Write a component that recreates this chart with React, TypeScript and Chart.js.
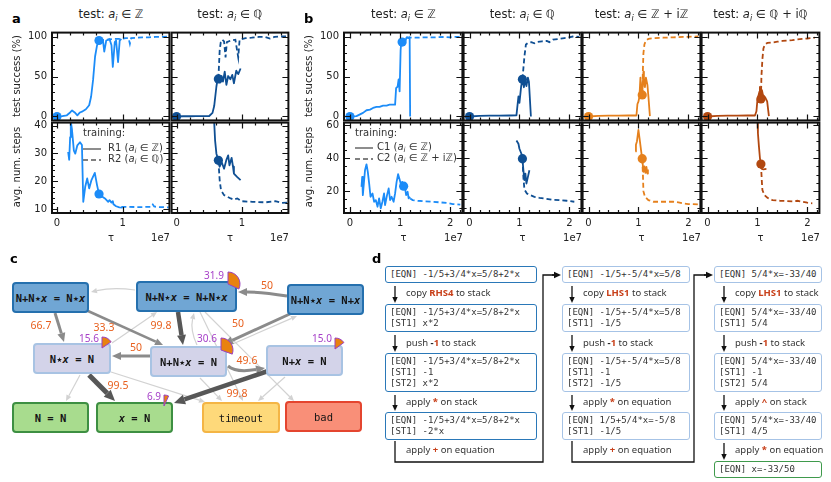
import React, { useEffect, useRef } from 'react';
import { Chart, registerables } from 'chart.js';

Chart.register(...registerables);

// ---------------- DATA (τ in units of 1e7) ----------------
// panel a, test a_i ∈ Z
const A_Z_TOP_SOLID_X = [0, 0.08, 0.15, 0.2, 0.23, 0.27, 0.31, 0.35, 0.38, 0.44, 0.49, 0.52, 0.55, 0.58, 0.61, 0.64, 0.68, 0.7, 0.72, 0.75, 0.78, 0.8, 0.83, 0.85, 0.88, 0.9, 0.93, 0.955, 0.98];
const A_Z_TOP_SOLID_Y = [0, 0.5, 1.5, 5, 7.5, 5, 1.5, 5, 6, 9, 14, 25, 46, 75, 89, 95, 93, 95, 81, 95, 96, 97, 89, 62, 93, 95, 68, 95, 97];
const A_Z_TOP_DASH_X = [0.64, 0.75, 0.85, 0.95, 1.05, 1.09, 1.11, 1.13, 1.2, 1.3, 1.4, 1.5, 1.6, 1.7];
const A_Z_TOP_DASH_Y = [95, 96, 97, 97, 98, 98, 91, 98, 98.5, 99, 99, 99.5, 99.5, 100];
const A_Z_TOP_DOT_X = [0, 0.64];
const A_Z_TOP_DOT_Y = [0, 95];
const A_Z_BOT_SOLID_X = [0.17, 0.186, 0.2, 0.21, 0.227, 0.257, 0.278, 0.31, 0.35, 0.38, 0.4, 0.43, 0.46, 0.49, 0.525, 0.576, 0.61, 0.64, 0.68, 0.73, 0.78, 0.8, 0.83, 0.85, 0.86, 0.9, 0.95, 1.0];
const A_Z_BOT_SOLID_Y = [30.5, 27.7, 35.8, 41.5, 38.8, 31, 29.9, 32.9, 34, 33, 12.6, 18, 21, 17.4, 20.4, 23, 18.6, 15.4, 14.6, 13.8, 12.6, 13.2, 12.3, 12.8, 11.7, 11, 10.6, 10.5];
const A_Z_BOT_DASH_X = [0.98, 1.1, 1.2, 1.3, 1.4, 1.44, 1.46, 1.48, 1.55, 1.7];
const A_Z_BOT_DASH_Y = [10.8, 10.8, 10.7, 10.7, 10.8, 10.8, 11.6, 10.9, 10.7, 10.6];
const A_Z_BOT_DOT_X = [0.64];
const A_Z_BOT_DOT_Y = [15.4];

// panel a, test a_i ∈ Q
const A_Q_TOP_SOLID_X = [0, 0.1, 0.2, 0.3, 0.4, 0.5, 0.55, 0.576, 0.61, 0.626, 0.64, 0.666, 0.69, 0.71, 0.737, 0.763, 0.79, 0.823, 0.853, 0.878, 0.914, 0.944, 0.98];
const A_Q_TOP_SOLID_Y = [0, 0.3, 0.3, 0.5, 0.5, 0.6, 4.5, 13, 37.5, 45.7, 47, 42.4, 50.6, 43.6, 56, 39.5, 50.6, 46.5, 52, 41.6, 57.2, 53, 60];
const A_Q_TOP_DASH_X = [0.64, 0.66, 0.677, 0.7, 0.727, 0.75, 0.77, 0.83, 0.9, 0.944, 0.965, 1.056, 1.15, 1.26, 1.35, 1.43, 1.5, 1.56, 1.7];
const A_Q_TOP_DASH_Y = [47, 82.7, 93, 96, 94, 74, 93, 95, 96, 74, 96, 98, 98.5, 99.5, 99.5, 97.5, 99.5, 100, 100];
const A_Q_TOP_DOT_X = [0, 0.64];
const A_Q_TOP_DOT_Y = [0, 47];
const A_Q_BOT_SOLID_X = [0.57, 0.59, 0.61, 0.64, 0.66, 0.69, 0.727, 0.763, 0.79, 0.81, 0.843, 0.864, 0.878, 0.93, 0.98];
const A_Q_BOT_SOLID_Y = [44, 34.6, 29.9, 27.5, 25.2, 26.9, 24.5, 27.7, 29.3, 25.7, 28.4, 25.2, 22.75, 21.5, 20.4];
const A_Q_BOT_DASH_X = [0.64, 0.66, 0.68, 0.727, 0.778, 0.83, 0.878, 0.93, 1.0, 1.16, 1.36, 1.51, 1.61, 1.7];
const A_Q_BOT_DASH_Y = [27.5, 20.4, 16.8, 15, 14.4, 13.8, 13.4, 13.8, 12.8, 12.6, 12.4, 12.8, 12.2, 12.3];
const A_Q_BOT_DOT_X = [0.64];
const A_Q_BOT_DOT_Y = [27.5];

// panel b, test a_i ∈ Z
const B_Z_TOP_SOLID_X = [0, 0.13, 0.26, 0.33, 0.4, 0.46, 0.53, 0.59, 0.66, 0.73, 0.79, 0.86, 0.9, 0.92, 0.95, 0.97, 0.99, 1.01, 1.02, 1.04, 1.07, 1.1, 1.13, 1.17, 1.19, 1.2];
const B_Z_TOP_SOLID_Y = [0, 0.4, 4.5, 7.8, 8.6, 10.7, 12, 12, 13.6, 13.6, 14.8, 14.8, 14.8, 35.4, 37.4, 46.5, 31.3, 82.7, 91, 93, 97, 94, 99, 98, 99, 0];
const B_Z_TOP_DASH_X = [1.13, 1.3, 1.5, 1.7, 1.9, 2.0, 2.1, 2.24];
const B_Z_TOP_DASH_Y = [99, 98.5, 99, 99, 99.5, 99, 99.5, 99.5];
const B_Z_TOP_DOT_X = [0, 1.04];
const B_Z_TOP_DOT_Y = [0, 93];
const B_Z_BOT_SOLID_X = [0.23, 0.244, 0.257, 0.277, 0.3, 0.33, 0.356, 0.383, 0.41, 0.449, 0.482, 0.515, 0.55, 0.581, 0.614, 0.647, 0.68, 0.7, 0.739, 0.772, 0.8, 0.83, 0.87, 0.9, 0.93, 0.96, 0.99, 1.016, 1.04, 1.07, 1.1, 1.12, 1.15, 1.17, 1.2];
const B_Z_BOT_SOLID_Y = [22.6, 28.6, 17.6, 24.6, 32.6, 36.2, 31.6, 24.6, 16.6, 18.6, 13.6, 14.6, 10.6, 15.6, 9.6, 13.6, 18.6, 11.6, 17.6, 21.6, 14.6, 16.6, 13.6, 18.6, 25.6, 30.2, 27, 24.2, 25.6, 23, 21.6, 17.6, 19.6, 15.6, 16.6];
const B_Z_BOT_DASH_X = [1.2, 1.25, 1.35, 1.5, 1.65, 1.8, 1.95, 2.05, 2.2];
const B_Z_BOT_DASH_Y = [15.6, 14.6, 14.2, 13.8, 13.6, 13.2, 12.8, 12.2, 11.8];
const B_Z_BOT_DOT_X = [1.07];
const B_Z_BOT_DOT_Y = [23];

// panel b, test a_i ∈ Q
const B_Q_TOP_SOLID_X = [0, 0.2, 0.4, 0.6, 0.8, 0.94, 0.98, 1.0, 1.02, 1.035, 1.06, 1.09, 1.11, 1.14, 1.17, 1.19, 1.23];
const B_Q_TOP_SOLID_Y = [0, 0.8, 1, 1, 1.2, 1.5, 25, 17, 29, 38, 46.5, 36.6, 45.7, 38, 48.5, 43.6, 0];
const B_Q_TOP_DASH_X = [1.06, 1.1, 1.13, 1.17, 1.24, 1.3, 1.35, 1.45, 1.55, 1.6, 1.67, 1.8, 1.9, 2.0, 2.07, 2.2];
const B_Q_TOP_DASH_Y = [46.5, 75, 90, 92, 93, 91.5, 93, 94, 94.5, 93, 96, 97, 98, 99, 100, 99.5];
const B_Q_TOP_DOT_X = [0, 1.06];
const B_Q_TOP_DOT_Y = [0, 46.5];
const B_Q_BOT_SOLID_X = [0.94, 0.98, 1.0, 1.04, 1.06, 1.08, 1.1, 1.12, 1.14, 1.17, 1.2];
const B_Q_BOT_SOLID_Y = [50.6, 48.6, 45.6, 42.6, 39.6, 32.6, 26.6, 30.6, 24.6, 28.6, 32.6];
const B_Q_BOT_DASH_X = [1.06, 1.08, 1.1, 1.15, 1.22, 1.3, 1.4, 1.5, 1.65, 1.8, 1.95, 2.1];
const B_Q_BOT_DASH_Y = [39.6, 28, 21, 18.6, 17.6, 16.6, 16, 15.6, 14.8, 14.6, 14.2, 13.6];
const B_Q_BOT_DOT_X = [1.06];
const B_Q_BOT_DOT_Y = [39.6];

// panel b, test a_i ∈ Z + iZ
const B_ZIZ_TOP_SOLID_X = [0, 0.2, 0.4, 0.6, 0.8, 0.96, 0.98, 1.0, 1.02, 1.04, 1.06, 1.076, 1.1, 1.11, 1.13, 1.15, 1.18, 1.2, 1.23];
const B_ZIZ_TOP_SOLID_Y = [0, 0.8, 1, 1, 1.2, 1.2, 15.6, 18.5, 24.7, 48.6, 33, 27, 56, 45.7, 36.6, 48.6, 39.5, 25, 0.4];
const B_ZIZ_TOP_DASH_X = [1.076, 1.09, 1.1, 1.12, 1.15, 1.2, 1.3, 1.5, 1.7, 1.9, 2.2];
const B_ZIZ_TOP_DASH_Y = [27, 60, 79, 90, 95, 97, 98, 98.5, 99, 99.5, 100];
const B_ZIZ_TOP_DOT_X = [0, 1.076];
const B_ZIZ_TOP_DOT_Y = [0, 27];
const B_ZIZ_BOT_SOLID_X = [0.94, 0.95, 0.97, 1.0, 1.03, 1.06, 1.076, 1.1, 1.12, 1.14, 1.16, 1.18, 1.19];
const B_ZIZ_BOT_SOLID_Y = [44, 48, 50, 57, 50, 43, 39.6, 31.6, 35, 31, 34.6, 30.6, 33];
const B_ZIZ_BOT_DASH_X = [1.076, 1.09, 1.1, 1.13, 1.2, 1.3, 1.5, 1.7, 1.8, 1.9, 2.0, 2.2];
const B_ZIZ_BOT_DASH_Y = [39.6, 30, 20, 16.6, 14.6, 13.6, 13.6, 13.6, 13.2, 12.6, 12.2, 12];
const B_ZIZ_BOT_DOT_X = [1.076];
const B_ZIZ_BOT_DOT_Y = [39.6];

// panel b, test a_i ∈ Q + iQ
const B_QIQ_TOP_SOLID_X = [0, 0.2, 0.4, 0.6, 0.8, 0.95, 0.98, 1.0, 1.04, 1.05, 1.07, 1.09, 1.11, 1.155, 1.195, 1.23];
const B_QIQ_TOP_SOLID_Y = [0, 0.8, 1, 1, 1.2, 1.2, 6.5, 20.8, 31, 37, 22, 33, 27, 24, 18.9, 0.4];
const B_QIQ_TOP_DASH_X = [1.07, 1.08, 1.1, 1.12, 1.15, 1.2, 1.3, 1.4, 1.5, 1.6, 1.7, 1.8, 1.9, 2.0, 2.15];
const B_QIQ_TOP_DASH_Y = [22, 50, 72, 85, 90, 92, 92.5, 93.5, 94.5, 95, 95.5, 96.5, 97, 97.5, 98.5];
const B_QIQ_TOP_DOT_X = [0, 1.07];
const B_QIQ_TOP_DOT_Y = [0, 22];
const B_QIQ_BOT_SOLID_X = [1.0, 1.01, 1.03, 1.05, 1.07, 1.09, 1.12, 1.18];
const B_QIQ_BOT_SOLID_Y = [64, 55, 47, 40, 36.4, 33.4, 33.2, 33.4];
const B_QIQ_BOT_DASH_X = [1.07, 1.09, 1.1, 1.14, 1.2, 1.3, 1.45, 1.6, 1.7, 1.8, 1.9, 2.0, 2.1];
const B_QIQ_BOT_DASH_Y = [36.4, 25, 20.6, 17.6, 16, 14.6, 14.2, 14, 13.8, 14.2, 13.6, 13, 12.6];
const B_QIQ_BOT_DOT_X = [1.07];
const B_QIQ_BOT_DOT_Y = [36.4];

// ticks
const X_MAJOR_A = [0, 1];
const X_MINOR_A = [0.2, 0.4, 0.6, 0.8, 1.2, 1.4, 1.6];
const X_MAJOR_B = [0, 1, 2];
const X_MINOR_B = [0.2, 0.4, 0.6, 0.8, 1.2, 1.4, 1.6, 1.8, 2.2];
const Y_MAJOR_TOP = [0, 50, 100];
const Y_MINOR_TOP = [10, 20, 30, 40, 60, 70, 80, 90];
const Y_MAJOR_BOT_A = [10, 20, 30, 40];
const Y_MINOR_BOT_A = [12, 14, 16, 18, 22, 24, 26, 28, 32, 34, 36, 38];
const Y_MAJOR_BOT_B = [20, 40, 60];
const Y_MINOR_BOT_B = [10, 15, 25, 30, 35, 45, 50, 55];

const COLUMN_TITLES_A = ['ℤ', 'ℚ'];
const COLUMN_TITLES_B = ['ℤ', 'ℚ', 'ℤ + iℤ', 'ℚ + iℚ'];

// ---------------- STYLE ----------------
const FONT = "'DejaVu Sans', sans-serif";
const SANS = "'Noto Sans', 'Open Sans', sans-serif";
const MONO = "'DejaVu Sans Mono', monospace";
const C_LBLUE = '#1c8cf8';
const C_DBLUE = '#0f4f93';
const C_ORANGE = '#e5801c';
const C_BROWN = '#b24810';

type S = [number[], number[]];
interface Cell {
  key: string; left: number; top: number; w: number; h: number;
  xr: [number, number]; yr: [number, number];
  xMajor: number[]; xMinor: number[]; yMajor: number[]; yMinor: number[];
  showX: boolean; showY: boolean; color: string;
  solid: S; dash: S; dots: S;
}

const TOP_ROW = { top: 32, h: 89 };
const BOT_ROW = { top: 122, h: 91 };
const A_LEFTS = [52, 171];
const A_W = 118;
const B_LEFTS = [344, 463, 582, 701];
const B_W = 119;
const XR_A: [number, number] = [-0.076, 1.712];
const XR_B: [number, number] = [-0.119, 2.242];
const YR_TOP: [number, number] = [-4.9, 104.9];
const YR_BOT_A: [number, number] = [8.57, 41.07];
const YR_BOT_B: [number, number] = [6.8, 61.4];

function mk(key: string, col: number, panel: 'a' | 'b', row: 'top' | 'bot', color: string, solid: S, dash: S, dots: S): Cell {
  const isA = panel === 'a';
  const r = row === 'top' ? TOP_ROW : BOT_ROW;
  return {
    key, left: isA ? A_LEFTS[col] : B_LEFTS[col], top: r.top, w: isA ? A_W : B_W, h: r.h,
    xr: isA ? XR_A : XR_B,
    yr: row === 'top' ? YR_TOP : isA ? YR_BOT_A : YR_BOT_B,
    xMajor: isA ? X_MAJOR_A : X_MAJOR_B, xMinor: isA ? X_MINOR_A : X_MINOR_B,
    yMajor: row === 'top' ? Y_MAJOR_TOP : isA ? Y_MAJOR_BOT_A : Y_MAJOR_BOT_B,
    yMinor: row === 'top' ? Y_MINOR_TOP : isA ? Y_MINOR_BOT_A : Y_MINOR_BOT_B,
    showX: row === 'bot', showY: col === 0, color, solid, dash, dots,
  };
}

const CELLS: Cell[] = [
  mk('azt', 0, 'a', 'top', C_LBLUE, [A_Z_TOP_SOLID_X, A_Z_TOP_SOLID_Y], [A_Z_TOP_DASH_X, A_Z_TOP_DASH_Y], [A_Z_TOP_DOT_X, A_Z_TOP_DOT_Y]),
  mk('azb', 0, 'a', 'bot', C_LBLUE, [A_Z_BOT_SOLID_X, A_Z_BOT_SOLID_Y], [A_Z_BOT_DASH_X, A_Z_BOT_DASH_Y], [A_Z_BOT_DOT_X, A_Z_BOT_DOT_Y]),
  mk('aqt', 1, 'a', 'top', C_DBLUE, [A_Q_TOP_SOLID_X, A_Q_TOP_SOLID_Y], [A_Q_TOP_DASH_X, A_Q_TOP_DASH_Y], [A_Q_TOP_DOT_X, A_Q_TOP_DOT_Y]),
  mk('aqb', 1, 'a', 'bot', C_DBLUE, [A_Q_BOT_SOLID_X, A_Q_BOT_SOLID_Y], [A_Q_BOT_DASH_X, A_Q_BOT_DASH_Y], [A_Q_BOT_DOT_X, A_Q_BOT_DOT_Y]),
  mk('bzt', 0, 'b', 'top', C_LBLUE, [B_Z_TOP_SOLID_X, B_Z_TOP_SOLID_Y], [B_Z_TOP_DASH_X, B_Z_TOP_DASH_Y], [B_Z_TOP_DOT_X, B_Z_TOP_DOT_Y]),
  mk('bzb', 0, 'b', 'bot', C_LBLUE, [B_Z_BOT_SOLID_X, B_Z_BOT_SOLID_Y], [B_Z_BOT_DASH_X, B_Z_BOT_DASH_Y], [B_Z_BOT_DOT_X, B_Z_BOT_DOT_Y]),
  mk('bqt', 1, 'b', 'top', C_DBLUE, [B_Q_TOP_SOLID_X, B_Q_TOP_SOLID_Y], [B_Q_TOP_DASH_X, B_Q_TOP_DASH_Y], [B_Q_TOP_DOT_X, B_Q_TOP_DOT_Y]),
  mk('bqb', 1, 'b', 'bot', C_DBLUE, [B_Q_BOT_SOLID_X, B_Q_BOT_SOLID_Y], [B_Q_BOT_DASH_X, B_Q_BOT_DASH_Y], [B_Q_BOT_DOT_X, B_Q_BOT_DOT_Y]),
  mk('bzizt', 2, 'b', 'top', C_ORANGE, [B_ZIZ_TOP_SOLID_X, B_ZIZ_TOP_SOLID_Y], [B_ZIZ_TOP_DASH_X, B_ZIZ_TOP_DASH_Y], [B_ZIZ_TOP_DOT_X, B_ZIZ_TOP_DOT_Y]),
  mk('bzizb', 2, 'b', 'bot', C_ORANGE, [B_ZIZ_BOT_SOLID_X, B_ZIZ_BOT_SOLID_Y], [B_ZIZ_BOT_DASH_X, B_ZIZ_BOT_DASH_Y], [B_ZIZ_BOT_DOT_X, B_ZIZ_BOT_DOT_Y]),
  mk('bqiqt', 3, 'b', 'top', C_BROWN, [B_QIQ_TOP_SOLID_X, B_QIQ_TOP_SOLID_Y], [B_QIQ_TOP_DASH_X, B_QIQ_TOP_DASH_Y], [B_QIQ_TOP_DOT_X, B_QIQ_TOP_DOT_Y]),
  mk('bqiqb', 3, 'b', 'bot', C_BROWN, [B_QIQ_BOT_SOLID_X, B_QIQ_BOT_SOLID_Y], [B_QIQ_BOT_DASH_X, B_QIQ_BOT_DASH_Y], [B_QIQ_BOT_DOT_X, B_QIQ_BOT_DOT_Y]),
];

function PlotCell({ c }: { c: Cell }) {
  const ref = useRef<HTMLCanvasElement | null>(null);
  const padL = c.showY ? 44 : 4;
  const padB = c.showX ? 18 : 4;
  const padT = 4, padR = 4;
  const W = c.w + padL + padR, H = c.h + padT + padB;
  useEffect(() => {
    if (!ref.current) return;
    const pts = (s: S) => s[0].map((x, i) => ({ x, y: s[1][i] }));
    const frame = {
      id: 'mplFrame',
      afterDraw(chart: any) {
        const { ctx, chartArea: a } = chart;
        const xs = chart.scales.x, ys = chart.scales.y;
        ctx.save();
        ctx.strokeStyle = '#111';
        ctx.lineWidth = 1.2;
        ctx.beginPath();
        const xt = (vals: number[], len: number) => vals.forEach((v) => {
          const p = Math.round(xs.getPixelForValue(v)) + 0.5;
          ctx.moveTo(p, a.bottom); ctx.lineTo(p, a.bottom - len);
          ctx.moveTo(p, a.top); ctx.lineTo(p, a.top + len);
        });
        const yt = (vals: number[], len: number) => vals.forEach((v) => {
          const p = Math.round(ys.getPixelForValue(v)) + 0.5;
          if (p < a.top || p > a.bottom) return;
          ctx.moveTo(a.left, p); ctx.lineTo(a.left + len, p);
          ctx.moveTo(a.right, p); ctx.lineTo(a.right - len, p);
        });
        xt(c.xMajor, 6); xt(c.xMinor, 3); yt(c.yMajor, 6); yt(c.yMinor, 3);
        ctx.stroke();
        ctx.lineWidth = 2;
        ctx.strokeStyle = '#111';
        ctx.strokeRect(a.left, a.top, a.right - a.left, a.bottom - a.top);
        ctx.restore();
      },
    };
    const zeroPad = (s: any) => { s.paddingLeft = 0; s.paddingRight = 0; s.paddingTop = 0; s.paddingBottom = 0; };
    const chart = new Chart(ref.current, {
      type: 'line',
      data: {
        datasets: [
          { data: pts(c.dots), showLine: false, pointRadius: 4.6, pointBackgroundColor: c.color, pointBorderColor: c.color, pointBorderWidth: 0, borderWidth: 0, clip: false } as any,
          { data: pts(c.solid), borderColor: c.color, borderWidth: 1.8, pointRadius: 0, tension: 0, fill: false, borderJoinStyle: 'round' },
          { data: pts(c.dash), borderColor: c.color, borderWidth: 1.8, borderDash: [5, 3], pointRadius: 0, tension: 0, fill: false },
        ],
      },
      options: {
        responsive: false,
        animation: false,
        devicePixelRatio: 1,
        events: [],
        layout: { padding: { left: 0, top: padT, right: padR, bottom: 0 } },
        plugins: { legend: { display: false }, tooltip: { enabled: false } },
        scales: {
          x: {
            type: 'linear', min: c.xr[0], max: c.xr[1], bounds: 'data',
            grid: { display: false, drawTicks: false },
            border: { display: false },
            ticks: { display: c.showX, padding: 4, color: '#222', font: { family: FONT, size: 10 }, maxRotation: 0, autoSkip: false, callback: (v: any) => String(v) },
            afterBuildTicks: (s: any) => { s.ticks = c.xMajor.map((v) => ({ value: v })); },
            afterFit: (s: any) => { s.height = padB; zeroPad(s); },
          },
          y: {
            type: 'linear', min: c.yr[0], max: c.yr[1], bounds: 'data',
            grid: { display: false, drawTicks: false },
            border: { display: false },
            ticks: { display: c.showY, padding: 5, color: '#222', font: { family: FONT, size: 10 }, autoSkip: false, callback: (v: any) => String(v) },
            afterBuildTicks: (s: any) => { s.ticks = c.yMajor.map((v) => ({ value: v })); },
            afterFit: (s: any) => { s.width = padL; zeroPad(s); },
          },
        },
      } as any,
      plugins: [frame],
    });
    return () => chart.destroy();
  }, []);
  return (
    <canvas ref={ref} width={W} height={H}
      style={{ position: 'absolute', left: c.left - padL, top: c.top - padT, width: W, height: H }} />
  );
}

// ---------------- text helpers ----------------
function T(props: { x: number; y: number; children: any; size?: number; anchor?: 'start' | 'middle' | 'end'; weight?: any; color?: string; family?: string; rotate?: boolean; style?: any }) {
  const { x, y, children, size = 10, anchor = 'middle', weight = 'normal', color = '#222', family = FONT, rotate = false, style = {} } = props;
  const tx = anchor === 'middle' ? '-50%' : anchor === 'end' ? '-100%' : '0';
  return (
    <div style={{
      position: 'absolute', left: x, top: y, transform: `translate(${tx}, -50%)${rotate ? ' rotate(-90deg)' : ''}`,
      fontSize: size, fontWeight: weight, color, fontFamily: family, whiteSpace: 'pre', lineHeight: 1, ...style,
    }}>{children}</div>
  );
}

function Ai() {
  return <span><i>a</i><span style={{ fontSize: '0.7em', fontStyle: 'italic', verticalAlign: '-0.3em' }}>i</span></span>;
}

// ---------------- panel c ----------------
const NODE_STYLE: Record<string, { bg: string; border: string }> = {
  top: { bg: '#70a6d4', border: '#2570ae' },
  mid: { bg: '#d3d3e9', border: '#a8c3e3' },
  good: { bg: '#a8dc8e', border: '#3d8f42' },
  timeout: { bg: '#fed97a', border: '#f4b545' },
  bad: { bg: '#f98f78', border: '#e4452f' },
};
const NODES = [
  { label: 'N+N*x = N*x', x: 12, y: 282, w: 77, kind: 'top', bold: true },
  { label: 'N+N*x = N+N*x', x: 136, y: 281, w: 101, kind: 'top', bold: true },
  { label: 'N+N*x = N+x', x: 287, y: 284, w: 77, kind: 'top', bold: true },
  { label: 'N*x = N', x: 33, y: 343, w: 78, kind: 'mid', bold: true },
  { label: 'N+N*x = N', x: 150, y: 346, w: 77, kind: 'mid', bold: true },
  { label: 'N+x = N', x: 266, y: 345, w: 77, kind: 'mid', bold: true },
  { label: 'N = N', x: 12, y: 402, w: 77, kind: 'good', bold: true },
  { label: 'x = N', x: 96, y: 402, w: 77, kind: 'good', bold: true },
  { label: 'timeout', x: 202, y: 402, w: 78, kind: 'timeout', bold: false },
  { label: 'bad', x: 285, y: 401, w: 77, kind: 'bad', bold: false },
];
const GRAY = '#8b8b8b', DARK = '#575757', LIGHT = '#d2d2d2';
const EDGES = [
  { x1: 135, y1: 290, x2: 91, y2: 292, w: 1.2, color: LIGHT, head: 6, cx: 113, cy: 287 },
  { x1: 80, y1: 375, x2: 66, y2: 401, w: 1.2, color: LIGHT, head: 6 },
  { x1: 111, y1: 372, x2: 205, y2: 402, w: 1.2, color: LIGHT, head: 6 },
  { x1: 200, y1: 378, x2: 222, y2: 401, w: 1.2, color: LIGHT, head: 6 },
  { x1: 205, y1: 312, x2: 294, y2: 401, w: 1.2, color: LIGHT, head: 6 },
  { x1: 285, y1: 377, x2: 258, y2: 401, w: 1.2, color: LIGHT, head: 6 },
  { x1: 228, y1: 346, x2: 297, y2: 316, w: 1.2, color: LIGHT, head: 6 },
  { x1: 200, y1: 312, x2: 243, y2: 401, w: 1.2, color: LIGHT, head: 6 },
  { x1: 112, y1: 343, x2: 157, y2: 312, w: 1.2, color: LIGHT, head: 6 },
  { x1: 197, y1: 345, x2: 194, y2: 313, w: 1.2, color: LIGHT, head: 6, cx: 190, cy: 330 },
  { x1: 55, y1: 313, x2: 64, y2: 342, w: 3, color: GRAY, head: 9 },
  { x1: 88, y1: 311, x2: 163, y2: 345, w: 2.5, color: GRAY, head: 8 },
  { x1: 178, y1: 312, x2: 183, y2: 345, w: 4.5, color: DARK, head: 10 },
  { x1: 287, y1: 296, x2: 238, y2: 292, w: 3, color: GRAY, head: 9, cx: 262, cy: 292 },
  { x1: 292, y1: 313, x2: 224, y2: 344, w: 3, color: GRAY, head: 9 },
  { x1: 150, y1: 356, x2: 112, y2: 356, w: 3, color: GRAY, head: 9 },
  { x1: 228, y1: 366, x2: 265, y2: 368, w: 3, color: GRAY, head: 9, cx: 236, cy: 373 },
  { x1: 89, y1: 375, x2: 115, y2: 401, w: 5, color: DARK, head: 11 },
  { x1: 268, y1: 371, x2: 174, y2: 403, w: 4.5, color: DARK, head: 11 },
];
const EDGE_LABELS = [
  { t: '66.7', x: 41, y: 325 }, { t: '33.3', x: 104, y: 327 }, { t: '99.8', x: 161, y: 325 },
  { t: '50', x: 267, y: 285 }, { t: '50', x: 238, y: 323 }, { t: '50', x: 136, y: 347 },
  { t: '49.6', x: 247, y: 360 }, { t: '99.5', x: 118, y: 385 }, { t: '99.8', x: 237, y: 393 },
];
const PIES = [
  { pct: 31.9, cx: 228, cy: 284, r: 12, tx: 214, ty: 275 },
  { pct: 15.6, cx: 102, cy: 348, r: 11, tx: 89, ty: 338 },
  { pct: 30.6, cx: 221, cy: 350, r: 12, tx: 207, ty: 338 },
  { pct: 15.0, cx: 335, cy: 349, r: 11, tx: 322, ty: 338 },
  { pct: 6.9, cx: 164, cy: 406, r: 11, tx: 154, ty: 396 },
];

function Arrow(e: any) {
  const sx = e.cx !== undefined ? e.cx : e.x1, sy = e.cy !== undefined ? e.cy : e.y1;
  const dx = e.x2 - sx, dy = e.y2 - sy;
  const len = Math.hypot(dx, dy) || 1;
  const ux = dx / len, uy = dy / len;
  const hl = e.head, hw = e.head * 0.45;
  const bx = e.x2 - ux * hl, by = e.y2 - uy * hl;
  const d = e.cx !== undefined ? `M${e.x1},${e.y1} Q${e.cx},${e.cy} ${bx},${by}` : `M${e.x1},${e.y1} L${bx},${by}`;
  const poly = `${e.x2},${e.y2} ${bx - uy * hw},${by + ux * hw} ${bx + uy * hw},${by - ux * hw}`;
  return (
    <g>
      <path d={d} stroke={e.color} strokeWidth={e.w} fill="none" />
      <polygon points={poly} fill={e.color} />
    </g>
  );
}

// '*' is drawn as a small star, 'x' in italics
function NodeLabel({ s }: { s: string }) {
  const out: any[] = [];
  Array.from(s).forEach((ch, i) => {
    if (ch === 'x') out.push(<i key={i}>x</i>);
    else if (ch === '*') out.push(
      <span key={i} style={{ display: 'inline-block', width: '0.602em', textAlign: 'center', overflow: 'visible' }}>
        <span style={{ fontFamily: FONT, fontSize: '0.62em', fontWeight: 'normal', position: 'relative', top: '-0.1em' }}>★</span>
      </span>);
    else out.push(<span key={i}>{ch}</span>);
  });
  return <>{out}</>;
}

function PanelC() {
  return (
    <>
      <svg width={831} height={482} style={{ position: 'absolute', left: 0, top: 0 }}>
        {EDGES.map((e, i) => <Arrow key={i} {...e} />)}
      </svg>
      {NODES.map((n, i) => {
        const st = NODE_STYLE[n.kind];
        return (
          <div key={i} style={{
            position: 'absolute', left: n.x, top: n.y, width: n.w, height: 31, boxSizing: 'border-box',
            background: st.bg, border: `2px solid ${st.border}`, borderRadius: 4,
            display: 'flex', alignItems: 'center', justifyContent: 'center',
            fontFamily: MONO, fontWeight: n.bold ? 'bold' : 'normal', fontSize: 10.5, color: '#151515', whiteSpace: 'pre',
          }}><NodeLabel s={n.label} /></div>
        );
      })}
      <svg width={831} height={482} style={{ position: 'absolute', left: 0, top: 0 }}>
        {PIES.map((p, i) => {
          const th = (p.pct / 100) * Math.PI * 2;
          const ex = p.cx + p.r * Math.sin(th), ey = p.cy - p.r * Math.cos(th);
          const large = th > Math.PI ? 1 : 0;
          return <path key={i} d={`M${p.cx},${p.cy} L${p.cx},${p.cy - p.r} A${p.r},${p.r} 0 ${large} 1 ${ex},${ey} Z`} fill="#e8820f" stroke="#9b3fc0" strokeWidth={1} />;
        })}
      </svg>
      {PIES.map((p, i) => <T key={'pt' + i} x={p.tx} y={p.ty} size={10} family={SANS} color="#a640c8">{p.pct.toFixed(1)}</T>)}
      {EDGE_LABELS.map((l, i) => <T key={'el' + i} x={l.x} y={l.y} size={10.5} family={SANS} color="#e8601e">{l.t}</T>)}
    </>
  );
}

// ---------------- panel d ----------------
const D_COLS = [
  {
    left: 385, w: 152, border: ['#2a78b8', '#2a78b8', '#2a78b8', '#2a78b8'],
    boxes: [
      ['[EQN] -1/5+3/4*x=5/8+2*x'],
      ['[EQN] -1/5+3/4*x=5/8+2*x', '[ST1] x*2'],
      ['[EQN] -1/5+3/4*x=5/8+2*x', '[ST1] -1', '[ST2] x*2'],
      ['[EQN] -1/5+3/4*x=5/8+2*x', '[ST1] -2*x'],
    ],
    labels: [['copy ', 'RHS4', ' to stack'], ['push ', '-1', ' to stack'], ['apply ', '*', ' on stack'], ['apply ', '+', ' on equation']],
  },
  {
    left: 562, w: 128, border: ['#a6c3e6', '#a6c3e6', '#a6c3e6', '#a6c3e6'],
    boxes: [
      ['[EQN] -1/5+-5/4*x=5/8'],
      ['[EQN] -1/5+-5/4*x=5/8', '[ST1] -1/5'],
      ['[EQN] -1/5+-5/4*x=5/8', '[ST1] -1', '[ST2] -1/5'],
      ['[EQN] 1/5+5/4*x=-5/8', '[ST1] -1/5'],
    ],
    labels: [['copy ', 'LHS1', ' to stack'], ['push ', '-1', ' to stack'], ['apply ', '*', ' on equation'], ['apply ', '+', ' on equation']],
  },
  {
    left: 714, w: 108, border: ['#a6c3e6', '#a6c3e6', '#a6c3e6', '#a6c3e6', '#3f9a4c'],
    boxes: [
      ['[EQN] 5/4*x=-33/40'],
      ['[EQN] 5/4*x=-33/40', '[ST1] 5/4'],
      ['[EQN] 5/4*x=-33/40', '[ST1] -1', '[ST2] 5/4'],
      ['[EQN] 5/4*x=-33/40', '[ST1] 4/5'],
      ['[EQN] x=-33/50'],
    ],
    labels: [['copy ', 'LHS1', ' to stack'], ['push ', '-1', ' to stack'], ['apply ', '^', ' on stack'], ['apply ', '*', ' on equation']],
  },
];
const D_TOPS = [266, 304, 353, 412, 461];
const D_LABEL_Y = [293, 343, 402, 450];
const D_LINE_H = 11;

function PanelD() {
  const arrows: any[] = [];
  const lines: string[] = [];
  D_COLS.forEach((col) => {
    const ax = col.left + 10;
    col.boxes.forEach((b, i) => {
      const bottom = D_TOPS[i] + b.length * D_LINE_H + 7;
      if (i + 1 < col.boxes.length) {
        arrows.push({ x1: ax, y1: bottom + 2, x2: ax, y2: D_TOPS[i + 1] - 1, w: 1.3, color: '#111', head: 6 });
      }
    });
  });
  const loops = [
    { from: D_COLS[0], to: D_COLS[1], midX: 543 },
    { from: D_COLS[1], to: D_COLS[2], midX: 694 },
  ];
  loops.forEach((l) => {
    const ax = l.from.left + 10;
    const b = D_TOPS[3] + 2 * D_LINE_H + 7;
    lines.push(`M${ax},${b} V462 H${l.midX} V275 H${l.to.left - 8}`);
    arrows.push({ x1: l.to.left - 10, y1: 275, x2: l.to.left - 1, y2: 275, w: 1.3, color: '#111', head: 7 });
  });
  return (
    <>
      <svg width={831} height={482} style={{ position: 'absolute', left: 0, top: 0 }}>
        {lines.map((d, i) => <path key={i} d={d} stroke="#111" strokeWidth={1.3} fill="none" />)}
        {arrows.map((e, i) => <Arrow key={i} {...e} />)}
      </svg>
      {D_COLS.map((col, ci) => (
        <React.Fragment key={ci}>
          {col.boxes.map((b, i) => (
            <div key={i} style={{
              position: 'absolute', left: col.left, top: D_TOPS[i], width: col.w, boxSizing: 'border-box',
              border: `1.5px solid ${col.border[i]}`, borderRadius: 3, background: '#fff', padding: '2px 4px',
              fontFamily: MONO, fontSize: 9, lineHeight: `${D_LINE_H}px`, color: '#333', whiteSpace: 'pre',
            }}>{b.map((ln, j) => <div key={j}>{ln}</div>)}</div>
          ))}
          {col.labels.map((lb, i) => (
            <T key={'l' + i} x={col.left + 21} y={D_LABEL_Y[i]} anchor="start" size={9.5} family={SANS} color="#333">
              {lb[0]}
              {lb[1] === '-1'
                ? <b><span style={{ color: '#222' }}>-</span><span style={{ color: '#c8401a' }}>1</span></b>
                : <b style={{ color: '#c8401a' }}>{lb[1]}</b>}
              {lb[2]}
            </T>
          ))}
        </React.Fragment>
      ))}
    </>
  );
}

// ---------------- App ----------------
export default function App() {
  const aCenters = A_LEFTS.map((l) => l + A_W / 2);
  const bCenters = B_LEFTS.map((l) => l + B_W / 2);
  return (
    <div style={{ position: 'absolute', left: 0, top: 0, width: 831, height: 482, background: '#fff', overflow: 'hidden', fontFamily: FONT }}>
      {CELLS.map((c) => <PlotCell key={c.key} c={c} />)}

      <T x={12} y={18} size={13} weight="bold" anchor="start" color="#000">a</T>
      <T x={304} y={18} size={13} weight="bold" anchor="start" color="#000">b</T>
      <T x={10} y={258} size={13} weight="bold" anchor="start" color="#000">c</T>
      <T x={372} y={258} size={13} weight="bold" anchor="start" color="#000">d</T>

      {COLUMN_TITLES_A.map((s, i) => <T key={'ta' + i} x={aCenters[i]} y={16} size={11.5}>test: <Ai /> ∈ {s}</T>)}
      {COLUMN_TITLES_B.map((s, i) => <T key={'tb' + i} x={bCenters[i]} y={16} size={11.5}>test: <Ai /> ∈ {s}</T>)}

      <T x={17} y={76} size={10} rotate>test success (%)</T>
      <T x={17} y={167} size={10} rotate>avg. num. steps</T>
      <T x={309} y={76} size={10} rotate>test success (%)</T>
      <T x={309} y={167} size={10} rotate>avg. num. steps</T>

      {A_LEFTS.map((l, i) => <T key={'xa' + i} x={l + A_W / 2} y={238} size={10}>τ</T>)}
      {A_LEFTS.map((l, i) => <T key={'ea' + i} x={l + A_W} y={238} size={10} anchor="end">1e7</T>)}
      {B_LEFTS.map((l, i) => <T key={'xb' + i} x={l + B_W / 2} y={238} size={10}>τ</T>)}
      {B_LEFTS.map((l, i) => <T key={'eb' + i} x={l + B_W} y={238} size={10} anchor="end">1e7</T>)}

      <svg width={831} height={482} style={{ position: 'absolute', left: 0, top: 0 }}>
        <line x1={83} y1={149} x2={101} y2={149} stroke="#808080" strokeWidth={1.8} />
        <line x1={83} y1={160} x2={101} y2={160} stroke="#808080" strokeWidth={1.8} strokeDasharray="5 3" />
        <line x1={355} y1={148} x2={373} y2={148} stroke="#808080" strokeWidth={1.8} />
        <line x1={355} y1={159} x2={373} y2={159} stroke="#808080" strokeWidth={1.8} strokeDasharray="5 3" />
      </svg>
      <T x={83} y={133} size={10} anchor="start" color="#333">training:</T>
      <T x={108} y={149} size={10} anchor="start" color="#333">R1 (<Ai /> ∈ ℤ)</T>
      <T x={108} y={160} size={10} anchor="start" color="#333">R2 (<Ai /> ∈ ℚ)</T>
      <T x={355} y={133} size={10} anchor="start" color="#333">training:</T>
      <T x={377} y={148} size={10} anchor="start" color="#333">C1 (<Ai /> ∈ ℤ)</T>
      <T x={377} y={159} size={10} anchor="start" color="#333">C2 (<Ai /> ∈ ℤ + iℤ)</T>

      <PanelC />
      <PanelD />
    </div>
  );
}
